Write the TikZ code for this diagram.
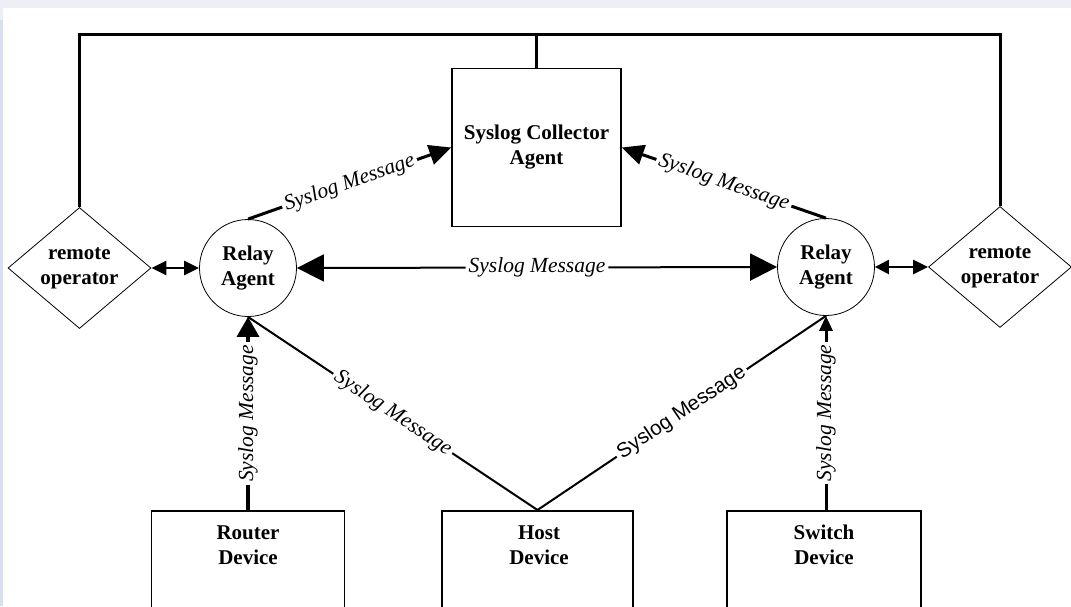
\documentclass[tikz,border=0pt]{standalone}
\usepackage{fontspec}
\setmainfont{Liberation Serif}
\newfontfamily\sansf{Liberation Sans}
\usetikzlibrary{arrows.meta,shapes.geometric}
\definecolor{bgtop}{RGB}{238,238,247}
\definecolor{bgleft}{RGB}{218,222,242}
\begin{document}
\begin{tikzpicture}[x=1pt,y=-1pt,
  lbl/.style={font=\fontsize{21.5}{25}\selectfont\itshape, fill=white, inner sep=3pt, sloped},
  bt/.style={font=\fontsize{21}{25}\selectfont\bfseries, align=center},
  boxn/.style={draw, line width=1.5pt, inner sep=0pt},
  relay/.style={draw, circle, line width=0.8pt, minimum size=97pt, inner sep=0pt, bt},
  oper/.style={draw, diamond, line width=0.8pt, minimum width=143pt, minimum height=121pt, inner sep=0pt, aspect=1.18, bt},
  thick3/.style={line width=3pt},
]
\useasboundingbox (0,0) rectangle (1071,606);
\clip (0,0) rectangle (1071,606);
\fill[bgtop] (0,0) rectangle (1071,606);
\fill[bgleft] (0,20) rectangle (3,606);
\fill[white] (3,8) rectangle (1071,606);

% nodes
\node[boxn, minimum width=169pt, minimum height=158pt, bt] (collector) at (536.5,147.5) {Syslog Collector\\Agent};
\node[relay] (relayL) at (248,268) {Relay\\Agent};
\node[relay] (relayR) at (826,267) {Relay\\Agent};
\node[oper] (opL) at (79.5,268) {remote\\operator};
\node[oper] (opR) at (1000,267) {remote\\operator};
\node[boxn, minimum width=193pt, minimum height=120pt, anchor=north] (router) at (248,510) {};
\node[bt] (routerT) at (248,545) {Router\\Device};
\node[boxn, minimum width=191pt, minimum height=120pt, anchor=north] (host) at (537.5,510) {};
\node[bt] (hostT) at (539,545) {Host\\Device};
\node[boxn, minimum width=194pt, minimum height=120pt, anchor=north] (switch) at (824,510) {};
\node[bt] (switchT) at (824,545) {Switch\\Device};
\coordinate (frame) at (537,34);

% top frame
\draw[thick3] (opL.north) -- (opL.north |- frame) -- (opR.north |- frame) -- (opR.north);
\draw[thick3] (collector.north) -- (collector.north |- frame);

% to collector
\draw[thick3, -{Triangle[length=22pt,width=20pt]}] (relayL.north) -- node[lbl]{Syslog Message} (collector.west);
\draw[thick3, -{Triangle[length=22pt,width=20pt]}] (relayR.north) -- node[lbl]{Syslog Message} (collector.east);

% between relays
\draw[line width=2pt, {Triangle[length=27pt,width=27pt]}-{Triangle[length=27pt,width=27pt]}] (relayL.east) -- node[lbl]{Syslog Message} (relayR.west);

% operators
\draw[line width=2.5pt, {Triangle[length=15pt,width=14pt]}-{Triangle[length=15pt,width=14pt]}] (opL.east) -- (relayL.west);
\draw[line width=2.5pt, {Triangle[length=14pt,width=14pt]}-{Triangle[length=15pt,width=14pt]}] (relayR.east) -- (opR.west);

% devices
\draw[line width=3.5pt, -{Triangle[length=20pt,width=22pt]}] (router.north) -- node[lbl]{Syslog Message} (relayL.south);
\draw[line width=3pt, -{Triangle[length=15pt,width=13pt]}] (switch.north -| relayR.south) -- node[lbl]{Syslog Message} (relayR.south);
\draw[line width=2pt] (host.north) -- node[lbl]{Syslog Message} (relayL.south);
\draw[line width=2pt] (host.north) -- node[lbl, font=\fontsize{20.5}{24}\selectfont\sansf]{Syslog Message} (relayR.south);
\end{tikzpicture}
\end{document}
